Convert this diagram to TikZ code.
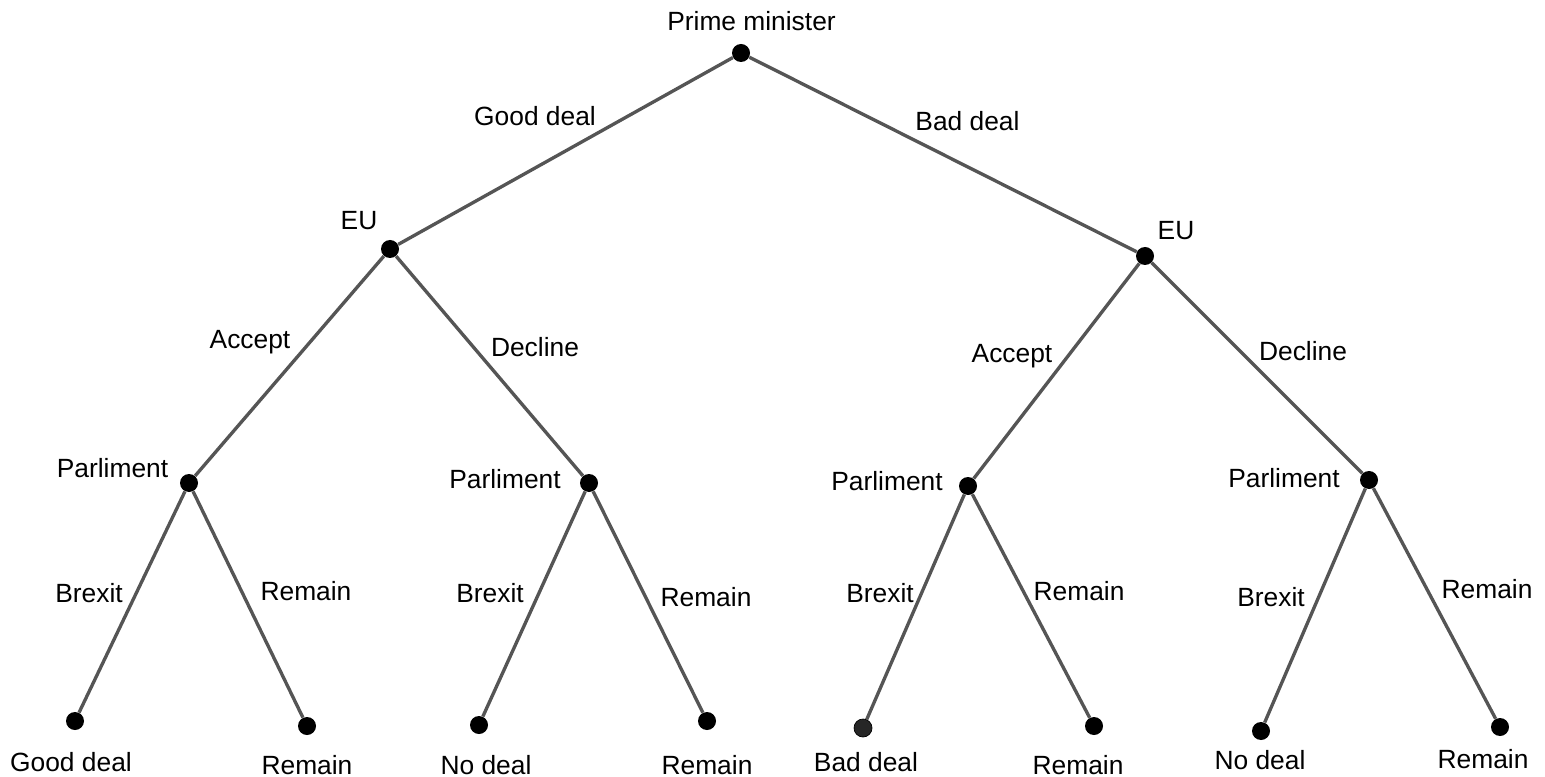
\documentclass[tikz,border=0pt]{standalone}
\usepackage{fontspec}
\setmainfont{Liberation Sans}
\usepackage{tikz}

\definecolor{edgegray}{RGB}{85,85,85}

\tikzset{
  dot/.style={circle, fill=black, inner sep=0pt, minimum size=0.36cm},
  lbl/.style={font=\fontsize{15}{17}\selectfont, inner sep=0pt},
  branch/.style={draw=edgegray, line width=1.9pt}
}

\begin{document}
\begin{tikzpicture}
\useasboundingbox (0,0) rectangle (30.9,-15.54);
% decision points
\node [dot] (pm) at (14.82,-1.06) {};
\node [dot] (euL) at (7.80,-4.98) {};
\node [dot] (euR) at (22.90,-5.12) {};
\node [dot] (parA) at (3.78,-9.66) {};
\node [dot] (parB) at (11.78,-9.66) {};
\node [dot] (parC) at (19.36,-9.72) {};
\node [dot] (parD) at (27.38,-9.60) {};
% outcomes
\node [dot] (endA1) at (1.50,-14.42) {};
\node [dot] (endA2) at (6.14,-14.52) {};
\node [dot] (endB1) at (9.58,-14.50) {};
\node [dot] (endB2) at (14.14,-14.42) {};
\node [dot, fill=black!85, draw=black, line width=0.4pt] (endC1) at (17.26,-14.56) {};
\node [dot] (endC2) at (21.88,-14.52) {};
\node [dot] (endD1) at (25.22,-14.62) {};
\node [dot] (endD2) at (30.00,-14.54) {};
% branches
\draw [branch] (pm) -- (euL);
\draw [branch] (pm) -- (euR);
\draw [branch] (euL) -- (parA);
\draw [branch] (euL) -- (parB);
\draw [branch] (euR) -- (parC);
\draw [branch] (euR) -- (parD);
\draw [branch] (parA) -- (endA1);
\draw [branch] (parA) -- (endA2);
\draw [branch] (parB) -- (endB1);
\draw [branch] (parB) -- (endB2);
\draw [branch] (parC) -- (endC1);
\draw [branch] (parC) -- (endC2);
\draw [branch] (parD) -- (endD1);
\draw [branch] (parD) -- (endD2);
% players
\node [lbl] (pmTxt) at (15.03,-0.42) {Prime minister};
\node [lbl] (euLTxt) at (7.18,-4.42) {EU};
\node [lbl] (euRTxt) at (23.52,-4.62) {EU};
\node [lbl] (parATxt) at (2.25,-9.36) {Parliment};
\node [lbl] (parBTxt) at (10.10,-9.58) {Parliment};
\node [lbl] (parCTxt) at (17.74,-9.62) {Parliment};
\node [lbl] (parDTxt) at (25.68,-9.56) {Parliment};
% actions
\node [lbl] (goodTxt) at (10.70,-2.32) {Good deal};
\node [lbl] (badTxt) at (19.35,-2.42) {Bad deal};
\node [lbl] (accLTxt) at (5.00,-6.84) {Accept};
\node [lbl] (decLTxt) at (10.70,-6.94) {Decline};
\node [lbl] (accRTxt) at (20.24,-7.12) {Accept};
\node [lbl] (decRTxt) at (26.06,-7.02) {Decline};
\node [lbl] (brxA) at (1.78,-11.86) {Brexit};
\node [lbl] (remA) at (6.12,-11.82) {Remain};
\node [lbl] (brxB) at (9.80,-11.86) {Brexit};
\node [lbl] (remB) at (14.12,-11.94) {Remain};
\node [lbl] (brxC) at (17.60,-11.86) {Brexit};
\node [lbl] (remC) at (21.58,-11.82) {Remain};
\node [lbl] (brxD) at (25.42,-11.94) {Brexit};
\node [lbl] (remD) at (29.74,-11.78) {Remain};
% results
\node [lbl] (resA1) at (1.42,-15.24) {Good deal};
\node [lbl] (resA2) at (6.14,-15.30) {Remain};
\node [lbl] (resB1) at (9.72,-15.30) {No deal};
\node [lbl] (resB2) at (14.14,-15.30) {Remain};
\node [lbl] (resC1) at (17.32,-15.24) {Bad deal};
\node [lbl] (resC2) at (21.56,-15.30) {Remain};
\node [lbl] (resD1) at (25.20,-15.20) {No deal};
\node [lbl] (resD2) at (29.66,-15.18) {Remain};
\end{tikzpicture}
\end{document}
